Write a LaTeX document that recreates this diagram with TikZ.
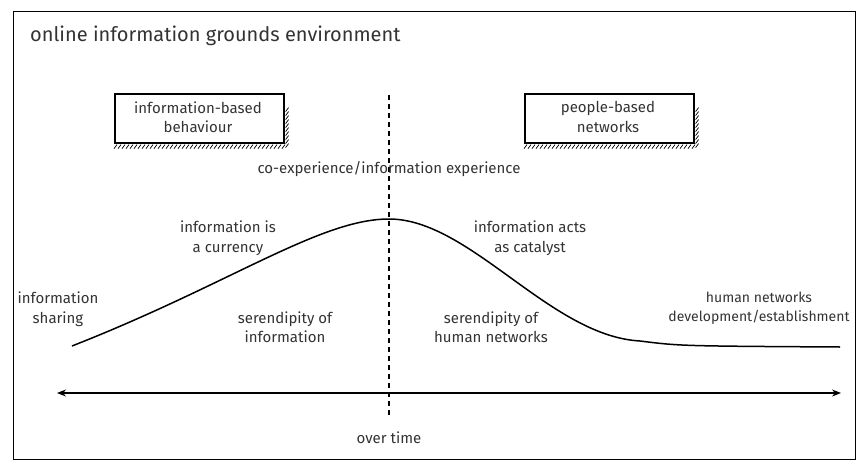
\documentclass[tikz,border=0pt]{standalone}
\usepackage{fontspec}
\setmainfont{Fira Sans}
\usetikzlibrary{arrows.meta}
\definecolor{txt}{HTML}{333333}
\tikzset{
  lbl/.style={text=txt, font=\fontsize{15}{19.5}\selectfont, align=center, inner sep=0pt},
  boxnode/.style={draw, line width=1.6pt, minimum width=169pt, minimum height=49pt, inner sep=0pt, anchor=north west},
  hatch/.style={line width=0.7pt},
  axis/.style={line width=1.2pt, {Stealth[length=9pt,width=7pt]}-{Stealth[length=9pt,width=7pt]}},
  curve/.style={line width=1.5pt},
  divider/.style={line width=1.2pt, dash pattern=on 5pt off 4pt},
}
\newcommand{\hatchbox}[1]{%
  \foreach \xx in {0,4,...,168} {\draw[hatch] ([xshift=\xx pt, yshift=-5pt]#1.south west) -- ++(3pt,4pt);}
  \foreach \yy in {-4,0,...,32} {\draw[hatch] ([xshift=1pt, yshift=\yy pt]#1.south east) -- ++(3pt,4pt);}
}
\begin{document}
\begin{tikzpicture}[x=1pt,y=-1pt]
\useasboundingbox (0,0) rectangle (864,468);
\node[draw, line width=1.3pt, minimum width=842pt, minimum height=448pt, anchor=north west, inner sep=0pt] (frame) at (13,11) {};
\node[anchor=west, text=txt, font=\fontsize{20}{24}\selectfont, inner sep=0pt] (title) at (30,36) {online information grounds environment};

\node[boxnode] (b1) at (114,93) {};
\node[lbl] (b1t) at (198,117) {information-based\\behaviour};
\node[boxnode] (b2) at (524,93) {};
\node[lbl] (b2t) at (608,117) {people-based\\networks};
\hatchbox{b1}
\hatchbox{b2}

\coordinate (dtop) at (389,95);
\coordinate (dbot) at (389,416);
\draw[divider] (dtop) -- (dbot);

\coordinate (L) at (57,393);
\coordinate (R) at (841,393);
\draw[axis] (L) -- (R);

\coordinate (c0) at (72,346);
\coordinate (peak) at (389,219);
\coordinate (knee) at (640,341);
\coordinate (c3) at (840,347);
\draw[curve] (c0) .. controls (230,284) and (320,219) .. (peak)
  .. controls (470,219) and (550,336) .. (knee)
  .. controls (680,346) .. (c3);

\node[lbl] (coexp) at (389,169) {co-experience/information experience};
\node[lbl] (curr) at (228,238) {information is\\a currency};
\node[lbl] (cat) at (530,238) {information acts\\as catalyst};
\node[lbl] (share) at (58,309) {information\\sharing};
\node[lbl] (serinf) at (285,327) {serendipity of\\information};
\node[lbl] (serhum) at (491,327) {serendipity of\\human networks};
\node[lbl, font=\fontsize{14}{19.5}\selectfont] (human) at (759,308) {human networks\\development/establishment};
\node[lbl] (time) at (389,438) {over time};
\end{tikzpicture}
\end{document}
